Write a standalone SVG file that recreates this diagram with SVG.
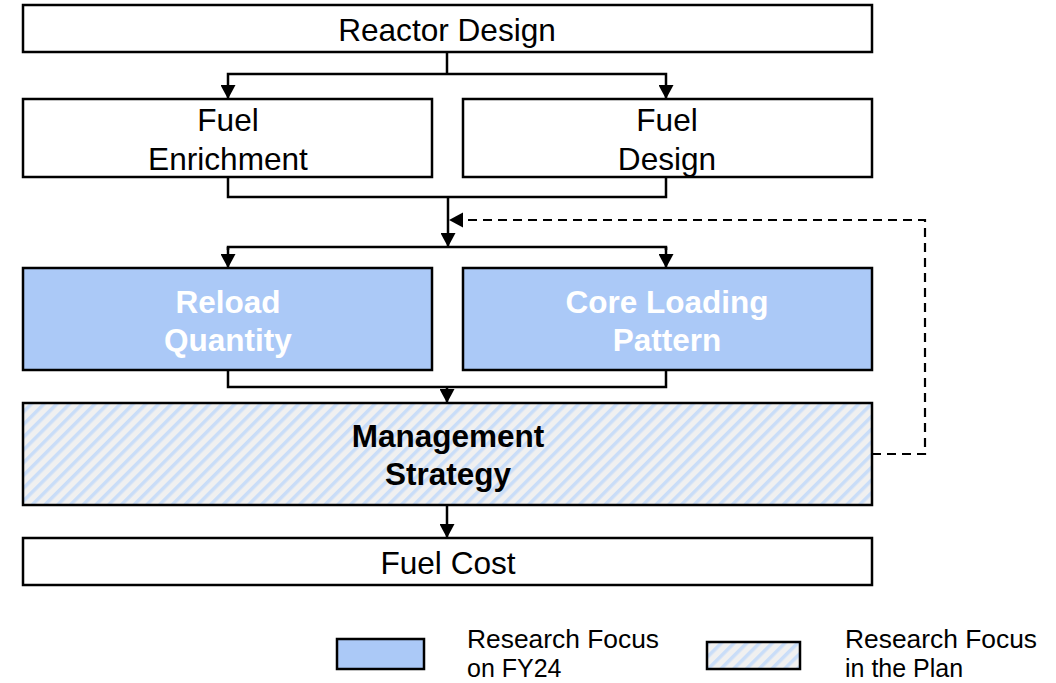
<svg xmlns="http://www.w3.org/2000/svg" width="1056" height="683" viewBox="0 0 1056 683">
  <style>
    .box { stroke: #000; stroke-width: 2.5; }
    .plain { fill: #fff; }
    .focus { fill: #abc9f7; }
    .plan { fill: url(#hatch); }
    .lbl { font-family: "Liberation Sans", Arial, sans-serif; font-size: 31.6px; text-anchor: middle; fill: #000; }
    .bold { font-weight: bold; font-size: 31.5px; }
    .white { fill: #fff; }
    .leg { font-family: "Liberation Sans", Arial, sans-serif; font-size: 25px; fill: #000; }
    .wire { fill: none; stroke: #000; stroke-width: 2.5; }
    .dash { fill: none; stroke: #000; stroke-width: 2.2; stroke-dasharray: 9 6; }
  </style>
  <defs>
    <pattern id="hatch" patternUnits="userSpaceOnUse" width="9" height="9" patternTransform="rotate(45)">
      <rect width="9" height="9" fill="#f0f0f0"/>
      <rect x="0" y="0" width="3.5" height="9" fill="#c9ddf8"/>
    </pattern>
    <marker id="arr" viewBox="0 0 14 15" refX="14" refY="7.5" markerWidth="14" markerHeight="15" markerUnits="userSpaceOnUse" orient="auto">
      <path d="M0,0 L14,7.5 L0,15 Z" fill="#000"/>
    </marker>
  </defs>

  <rect width="1056" height="683" fill="#fff"/>

  <g id="connectors">
    <!-- Reactor Design fan-out -->
    <path class="wire" d="M447,52 V74"/>
    <path class="wire" d="M447,74 H228 V99" marker-end="url(#arr)"/>
    <path class="wire" d="M447,74 H666 V99" marker-end="url(#arr)"/>
    <!-- fuel boxes merge -->
    <path class="wire" d="M228,177 V197 H666 V177"/>
    <path class="wire" d="M448,197 V247" marker-end="url(#arr)"/>
    <!-- fan-out to focus boxes -->
    <path class="wire" d="M228,250 V247 H666 V250"/>
    <path class="wire" d="M228,247 V268" marker-end="url(#arr)"/>
    <path class="wire" d="M666,247 V268" marker-end="url(#arr)"/>
    <!-- focus boxes merge into management -->
    <path class="wire" d="M228,370 V387 H666 V370"/>
    <path class="wire" d="M447,387 V403" marker-end="url(#arr)"/>
    <!-- management to cost -->
    <path class="wire" d="M447,505 V538" marker-end="url(#arr)"/>
    <!-- feedback loop -->
    <path class="dash" d="M872,454 H925 V220 H462"/>
    <path d="M449,220 L463,212.5 L463,227.5 Z" fill="#000"/>
  </g>

  <g id="reactor-design">
    <rect class="box plain" x="23" y="5" width="849" height="47"/>
    <text class="lbl" x="447" y="41">Reactor Design</text>
  </g>

  <g id="fuel-enrichment">
    <rect class="box plain" x="23" y="99" width="409" height="78"/>
    <text class="lbl" x="228" y="131">Fuel</text>
    <text class="lbl" x="228" y="170">Enrichment</text>
  </g>

  <g id="fuel-design">
    <rect class="box plain" x="463" y="99" width="409" height="78"/>
    <text class="lbl" x="667" y="131">Fuel</text>
    <text class="lbl" x="667" y="170">Design</text>
  </g>

  <g id="reload-quantity">
    <rect class="box focus" x="23" y="268" width="409" height="102"/>
    <text class="lbl bold white" x="228" y="313">Reload</text>
    <text class="lbl bold white" x="228" y="351">Quantity</text>
  </g>

  <g id="core-loading-pattern">
    <rect class="box focus" x="463" y="268" width="409" height="102"/>
    <text class="lbl bold white" x="667" y="313">Core Loading</text>
    <text class="lbl bold white" x="667" y="351">Pattern</text>
  </g>

  <g id="management-strategy">
    <rect class="box plan" x="23" y="403" width="849" height="102"/>
    <text class="lbl bold" x="448" y="447">Management</text>
    <text class="lbl bold" x="448" y="485">Strategy</text>
  </g>

  <g id="fuel-cost">
    <rect class="box plain" x="23" y="538" width="849" height="47"/>
    <text class="lbl" x="448" y="574">Fuel Cost</text>
  </g>

  <g id="legend">
    <rect class="box focus" x="337" y="639" width="87" height="30"/>
    <text class="leg" x="467" y="648" textLength="192" lengthAdjust="spacingAndGlyphs">Research Focus</text>
    <text class="leg" x="467" y="677">on FY24</text>
    <rect class="box plan" x="707" y="642" width="93" height="27"/>
    <text class="leg" x="845" y="648" textLength="192" lengthAdjust="spacingAndGlyphs">Research Focus</text>
    <text class="leg" x="845" y="677">in the Plan</text>
  </g>
</svg>
